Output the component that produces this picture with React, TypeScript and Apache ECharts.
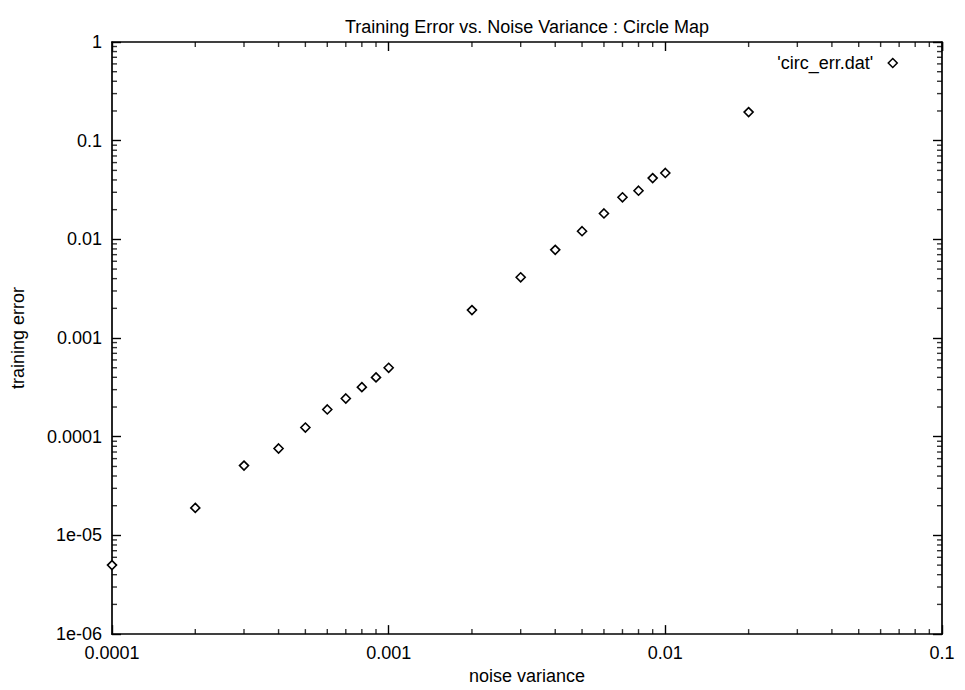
import React, { useEffect, useRef } from "react";
import * as echarts from "echarts";

// Training error measured against the noise variance added to the circle map data
const noiseVariance = [
  0.0001, 0.0002, 0.0003, 0.0004, 0.0005, 0.0006, 0.0007, 0.0008, 0.0009, 0.001,
  0.002, 0.003, 0.004, 0.005, 0.006, 0.007, 0.008, 0.009, 0.01, 0.02,
];
const trainingError = [
  5.0e-6, 1.9e-5, 5.1e-5, 7.6e-5, 1.24e-4, 1.89e-4, 2.44e-4, 3.18e-4, 3.99e-4, 5.0e-4,
  1.92e-3, 4.13e-3, 7.83e-3, 1.21e-2, 1.83e-2, 2.67e-2, 3.11e-2, 4.18e-2, 4.71e-2, 0.195,
];

const seriesName = "'circ_err.dat'";
const chartTitle = "Training Error vs. Noise Variance : Circle Map";
const xName = "noise variance";
const yName = "training error";

// Decade tick labels, lowest exponent first
const xTickLabels = ["0.0001", "0.001", "0.01", "0.1"];
const xMinExp = -4;
const yTickLabels = ["1e-06", "1e-05", "0.0001", "0.001", "0.01", "0.1", "1"];
const yMinExp = -6;

const X_MIN = 0.0001;
const X_MAX = 0.1;
const Y_MIN = 1e-6;
const Y_MAX = 1;

// Minor tick positions (2..9 within each decade)
const minorMultipliers = [2, 3, 4, 5, 6, 7, 8, 9];
function minorTicks(minExp: number, maxExp: number): number[] {
  const out: number[] = [];
  for (let e = minExp; e < maxExp; e++) {
    for (const m of minorMultipliers) out.push(Number((m * Math.pow(10, e)).toPrecision(6)));
  }
  return out;
}
const xMinor = minorTicks(-4, -1);
const yMinor = minorTicks(-6, 0);

const FONT = "'Liberation Sans', Arial, Helvetica, sans-serif";
const FONT_SIZE = 18;
const MINOR_LEN = 5;
const MAJOR_LEN = 9;
const TICK_W = 1.4;
const MINOR_COLOR = "#000";

// Minor ticks are drawn as thin rect markers sitting on the frame, pointing inward
function minorTickSeries(name: string, data: number[][], size: number[], offset: number[]) {
  return {
    name,
    type: "scatter",
    xAxisIndex: 0,
    yAxisIndex: 0,
    clip: false,
    symbol: "rect",
    symbolSize: size,
    symbolOffset: offset,
    itemStyle: { color: MINOR_COLOR },
    z: 4,
    data,
  };
}

export default function App() {
  const ref = useRef<HTMLDivElement>(null);

  useEffect(() => {
    document.body.style.margin = "0";
    if (!ref.current) return;
    const chart = echarts.init(ref.current, undefined, { renderer: "svg" });

    const axisCommon = {
      type: "log" as const,
      logBase: 10,
      splitLine: { show: false },
      axisLine: { show: true, lineStyle: { color: "#000", width: 1.7 } },
      axisTick: { show: true, inside: true, length: MAJOR_LEN, lineStyle: { color: "#000", width: TICK_W } },
    };

    chart.setOption({
      animation: false,
      backgroundColor: "#fff",
      title: {
        text: chartTitle,
        left: 522,
        top: 13,
        textAlign: "center",
        textStyle: { fontFamily: FONT, fontSize: FONT_SIZE, fontWeight: "normal", color: "#000" },
      },
      legend: {
        data: [seriesName],
        right: 67,
        top: 54,
        padding: 0,
        align: "right",
        itemWidth: 9,
        itemHeight: 9,
        itemStyle: { color: "#fff", borderColor: "#000", borderWidth: 1.5 },
        textStyle: { fontFamily: FONT, fontSize: FONT_SIZE, color: "#000", padding: [0, 10, 0, 0] },
      },
      grid: { left: 112, top: 42, width: 830, height: 598, containLabel: false },
      xAxis: [
        {
          ...axisCommon,
          position: "bottom",
          min: X_MIN,
          max: X_MAX,
          name: xName,
          nameLocation: "middle",
          nameGap: 26,
          nameTextStyle: { fontFamily: FONT, fontSize: FONT_SIZE, color: "#000" },
          axisLabel: {
            show: true,
            margin: 10,
            showMinLabel: true,
            showMaxLabel: true,
            hideOverlap: false,
            fontFamily: FONT,
            fontSize: FONT_SIZE,
            color: "#000",
            formatter: (v: number) => xTickLabels[Math.round(Math.log10(v)) - xMinExp] ?? "",
          },
        },
        {
          ...axisCommon,
          position: "top",
          min: X_MIN,
          max: X_MAX,
          axisLabel: { show: false },
        },
      ],
      yAxis: [
        {
          ...axisCommon,
          position: "left",
          min: Y_MIN,
          max: Y_MAX,
          name: yName,
          nameLocation: "middle",
          nameGap: 85,
          nameRotate: 90,
          nameTextStyle: { fontFamily: FONT, fontSize: FONT_SIZE, color: "#000" },
          axisLabel: {
            show: true,
            margin: 10,
            showMinLabel: true,
            showMaxLabel: true,
            hideOverlap: false,
            fontFamily: FONT,
            fontSize: FONT_SIZE,
            color: "#000",
            formatter: (v: number) => yTickLabels[Math.round(Math.log10(v)) - yMinExp] ?? "",
          },
        },
        {
          ...axisCommon,
          position: "right",
          min: Y_MIN,
          max: Y_MAX,
          axisLabel: { show: false },
        },
      ],
      series: [
        {
          name: seriesName,
          type: "scatter",
          xAxisIndex: 0,
          yAxisIndex: 0,
          symbol: "diamond",
          symbolSize: 9,
          clip: false,
          itemStyle: { color: "#fff", borderColor: "#000", borderWidth: 1.6, opacity: 1 },
          data: noiseVariance.map((x, i) => [x, trainingError[i]]),
          z: 5,
        },
        minorTickSeries("minorBottom", xMinor.map((x) => [x, Y_MIN]), [TICK_W, MINOR_LEN], [0, -MINOR_LEN / 2]),
        minorTickSeries("minorTop", xMinor.map((x) => [x, Y_MAX]), [TICK_W, MINOR_LEN], [0, MINOR_LEN / 2]),
        minorTickSeries("minorLeft", yMinor.map((y) => [X_MIN, y]), [MINOR_LEN, TICK_W], [MINOR_LEN / 2, 0]),
        minorTickSeries("minorRight", yMinor.map((y) => [X_MAX, y]), [MINOR_LEN, TICK_W], [-MINOR_LEN / 2, 0]),
      ],
    });

    return () => chart.dispose();
  }, []);

  return <div ref={ref} style={{ width: 965, height: 690 }} />;
}
